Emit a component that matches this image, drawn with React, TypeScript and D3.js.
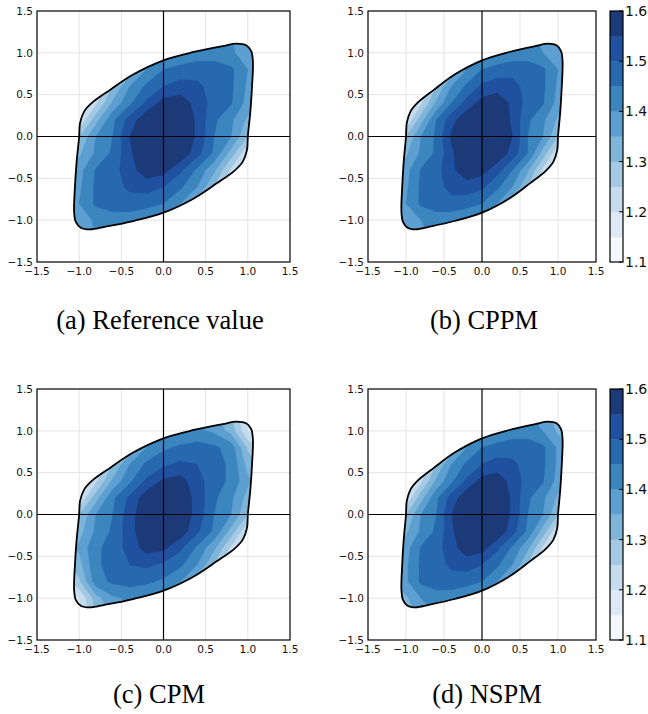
import React from 'react';
import * as d3 from 'd3';

// ---------- data ----------
const GRID_X = [-1.2, -1.0, -0.8, -0.6, -0.4, -0.2, 0, 0.2, 0.4, 0.6, 0.8, 1.0, 1.2];
const GRID_Y = [1.2, 1.0, 0.8, 0.6, 0.4, 0.2, 0, -0.2, -0.4, -0.6, -0.8, -1.0, -1.2];
const LEVELS = [1.1, 1.15, 1.2, 1.25, 1.3, 1.35, 1.4, 1.45, 1.5, 1.55, 1.6];
const BAND_COLORS = ['#f4f7fb', '#dde9f5', '#c6dbee', '#a5c9e3', '#80b5da', '#5c9fd0', '#3c86c0', '#2769ae', '#2051a0', '#1d3a78'];
const AXIS_TICKS = [-1.5, -1.0, -0.5, 0, 0.5, 1.0, 1.5];
const CBAR_TICKS = [1.1, 1.2, 1.3, 1.4, 1.5, 1.6];

const LOOP_X = [-1.0, -0.99, -0.94, -0.84, -0.63, -0.36, 0, 0.36, 0.7, 0.87, 0.98, 1.04, 1.06, 1.05, 1.03,
  1.0, 0.99, 0.94, 0.84, 0.63, 0.36, 0, -0.36, -0.7, -0.87, -0.98, -1.04, -1.06, -1.05, -1.03];
const LOOP_Y = [0, 0.16, 0.30, 0.41, 0.56, 0.74, 0.91, 1.01, 1.08, 1.11, 1.09, 1.02, 0.9, 0.6, 0.3,
  0, -0.16, -0.30, -0.41, -0.56, -0.74, -0.91, -1.01, -1.08, -1.11, -1.09, -1.02, -0.9, -0.6, -0.3];

// rows: y = 1.2 (top) ... -1.2 (bottom); columns: x = -1.2 ... 1.2
const FIELD_A = [
  [1.22, 1.24, 1.27, 1.30, 1.33, 1.36, 1.38, 1.40, 1.41, 1.41, 1.40, 1.36, 1.33],
  [1.22, 1.24, 1.27, 1.30, 1.33, 1.33, 1.38, 1.40, 1.42, 1.42, 1.41, 1.37, 1.34],
  [1.15, 1.18, 1.22, 1.28, 1.31, 1.40, 1.45, 1.47, 1.48, 1.48, 1.46, 1.40, 1.36],
  [1.10, 1.12, 1.20, 1.30, 1.40, 1.46, 1.50, 1.52, 1.51, 1.48, 1.46, 1.39, 1.35],
  [1.08, 1.10, 1.24, 1.36, 1.44, 1.51, 1.57, 1.58, 1.53, 1.48, 1.455, 1.38, 1.34],
  [1.15, 1.20, 1.33, 1.44, 1.52, 1.59, 1.61, 1.60, 1.54, 1.46, 1.41, 1.34, 1.30],
  [1.25, 1.30, 1.40, 1.45, 1.55, 1.59, 1.61, 1.60, 1.54, 1.45, 1.40, 1.30, 1.25],
  [1.30, 1.34, 1.41, 1.46, 1.54, 1.60, 1.61, 1.59, 1.52, 1.44, 1.33, 1.20, 1.15],
  [1.34, 1.38, 1.455, 1.48, 1.53, 1.58, 1.57, 1.51, 1.44, 1.36, 1.24, 1.10, 1.08],
  [1.35, 1.39, 1.46, 1.48, 1.51, 1.52, 1.50, 1.46, 1.40, 1.30, 1.20, 1.12, 1.10],
  [1.36, 1.40, 1.46, 1.48, 1.48, 1.47, 1.45, 1.40, 1.31, 1.28, 1.22, 1.18, 1.15],
  [1.34, 1.37, 1.41, 1.42, 1.42, 1.40, 1.38, 1.33, 1.33, 1.30, 1.27, 1.24, 1.22],
  [1.33, 1.36, 1.40, 1.41, 1.41, 1.40, 1.38, 1.36, 1.33, 1.30, 1.27, 1.24, 1.22],
];

const FIELD_B = [
  [1.22, 1.24, 1.27, 1.30, 1.33, 1.36, 1.38, 1.40, 1.41, 1.41, 1.39, 1.35, 1.32],
  [1.22, 1.24, 1.27, 1.30, 1.33, 1.33, 1.38, 1.40, 1.42, 1.42, 1.40, 1.36, 1.33],
  [1.15, 1.18, 1.22, 1.28, 1.31, 1.40, 1.45, 1.47, 1.48, 1.48, 1.46, 1.40, 1.36],
  [1.10, 1.12, 1.20, 1.30, 1.40, 1.46, 1.51, 1.53, 1.52, 1.48, 1.46, 1.39, 1.35],
  [1.08, 1.10, 1.24, 1.36, 1.45, 1.52, 1.57, 1.58, 1.54, 1.48, 1.455, 1.38, 1.34],
  [1.15, 1.20, 1.33, 1.45, 1.53, 1.59, 1.61, 1.60, 1.54, 1.46, 1.41, 1.34, 1.30],
  [1.25, 1.30, 1.40, 1.46, 1.56, 1.60, 1.61, 1.60, 1.55, 1.45, 1.40, 1.30, 1.25],
  [1.30, 1.34, 1.41, 1.46, 1.54, 1.60, 1.61, 1.59, 1.53, 1.45, 1.33, 1.20, 1.15],
  [1.34, 1.38, 1.455, 1.48, 1.54, 1.58, 1.57, 1.52, 1.45, 1.36, 1.24, 1.10, 1.08],
  [1.35, 1.39, 1.46, 1.48, 1.52, 1.53, 1.51, 1.46, 1.40, 1.30, 1.20, 1.12, 1.10],
  [1.36, 1.40, 1.46, 1.48, 1.48, 1.47, 1.45, 1.40, 1.31, 1.28, 1.22, 1.18, 1.15],
  [1.33, 1.36, 1.40, 1.42, 1.42, 1.40, 1.38, 1.33, 1.33, 1.30, 1.27, 1.24, 1.22],
  [1.32, 1.35, 1.39, 1.41, 1.41, 1.40, 1.38, 1.36, 1.33, 1.30, 1.27, 1.24, 1.22],
];

const FIELD_C = [
  [1.22, 1.24, 1.27, 1.30, 1.33, 1.36, 1.38, 1.39, 1.39, 1.36, 1.30, 1.18, 1.12],
  [1.22, 1.24, 1.27, 1.30, 1.33, 1.33, 1.38, 1.40, 1.41, 1.39, 1.33, 1.20, 1.14],
  [1.15, 1.18, 1.22, 1.28, 1.31, 1.40, 1.44, 1.46, 1.47, 1.46, 1.43, 1.29, 1.22],
  [1.10, 1.12, 1.20, 1.30, 1.40, 1.46, 1.49, 1.51, 1.50, 1.47, 1.44, 1.33, 1.28],
  [1.08, 1.10, 1.24, 1.36, 1.44, 1.51, 1.56, 1.57, 1.52, 1.47, 1.44, 1.36, 1.32],
  [1.15, 1.20, 1.33, 1.44, 1.51, 1.58, 1.60, 1.59, 1.53, 1.46, 1.41, 1.33, 1.29],
  [1.25, 1.30, 1.40, 1.45, 1.53, 1.59, 1.61, 1.59, 1.53, 1.45, 1.40, 1.30, 1.25],
  [1.29, 1.33, 1.41, 1.46, 1.53, 1.59, 1.60, 1.58, 1.51, 1.44, 1.33, 1.20, 1.15],
  [1.32, 1.36, 1.44, 1.47, 1.52, 1.57, 1.56, 1.51, 1.44, 1.36, 1.24, 1.10, 1.08],
  [1.28, 1.33, 1.44, 1.47, 1.50, 1.51, 1.49, 1.46, 1.40, 1.30, 1.20, 1.12, 1.10],
  [1.22, 1.29, 1.43, 1.46, 1.47, 1.46, 1.44, 1.40, 1.31, 1.28, 1.22, 1.18, 1.15],
  [1.14, 1.20, 1.33, 1.39, 1.41, 1.40, 1.38, 1.33, 1.33, 1.30, 1.27, 1.24, 1.22],
  [1.12, 1.18, 1.30, 1.36, 1.39, 1.39, 1.38, 1.36, 1.33, 1.30, 1.27, 1.24, 1.22],
];

const FIELD_D = [
  [1.22, 1.24, 1.27, 1.30, 1.33, 1.36, 1.38, 1.40, 1.41, 1.40, 1.37, 1.32, 1.28],
  [1.22, 1.24, 1.27, 1.30, 1.33, 1.33, 1.38, 1.40, 1.42, 1.42, 1.40, 1.34, 1.30],
  [1.15, 1.18, 1.22, 1.28, 1.31, 1.40, 1.45, 1.47, 1.48, 1.48, 1.46, 1.39, 1.35],
  [1.10, 1.12, 1.20, 1.30, 1.40, 1.46, 1.50, 1.52, 1.51, 1.48, 1.46, 1.39, 1.35],
  [1.08, 1.10, 1.24, 1.36, 1.44, 1.51, 1.57, 1.58, 1.53, 1.48, 1.455, 1.38, 1.34],
  [1.15, 1.20, 1.33, 1.44, 1.52, 1.59, 1.61, 1.60, 1.54, 1.46, 1.41, 1.34, 1.30],
  [1.25, 1.30, 1.40, 1.45, 1.55, 1.59, 1.61, 1.60, 1.54, 1.45, 1.40, 1.30, 1.25],
  [1.30, 1.34, 1.41, 1.46, 1.54, 1.60, 1.61, 1.59, 1.52, 1.44, 1.33, 1.20, 1.15],
  [1.34, 1.38, 1.455, 1.48, 1.53, 1.58, 1.57, 1.51, 1.44, 1.36, 1.24, 1.10, 1.08],
  [1.35, 1.39, 1.46, 1.48, 1.51, 1.52, 1.50, 1.46, 1.40, 1.30, 1.20, 1.12, 1.10],
  [1.35, 1.39, 1.46, 1.48, 1.48, 1.47, 1.45, 1.40, 1.31, 1.28, 1.22, 1.18, 1.15],
  [1.30, 1.34, 1.40, 1.42, 1.42, 1.40, 1.38, 1.33, 1.33, 1.30, 1.27, 1.24, 1.22],
  [1.28, 1.32, 1.37, 1.40, 1.41, 1.40, 1.38, 1.36, 1.33, 1.30, 1.27, 1.24, 1.22],
];

const CAPTIONS = ['(a) Reference value', '(b) CPPM', '(c) CPM', '(d) NSPM'];

// ---------- layout ----------
const W = 648, H = 714;
const PANELS = [
  { id: 'a', field: FIELD_A, x0: 37, x1: 290, y0: 11, y1: 262, capX: 160, capY: 329, cbar: false },
  { id: 'b', field: FIELD_B, x0: 368, x1: 596, y0: 11, y1: 262, capX: 484, capY: 329, cbar: true },
  { id: 'c', field: FIELD_C, x0: 37, x1: 290, y0: 389, y1: 640, capX: 159, capY: 703, cbar: false },
  { id: 'd', field: FIELD_D, x0: 368, x1: 596, y0: 389, y1: 640, capX: 487, capY: 703, cbar: true },
];
const TICK_FONT = "'DejaVu Sans', sans-serif";
const CAP_FONT = "'Liberation Serif', 'Times New Roman', Times, 'DejaVu Serif', serif";
const fmt = d3.format('.1f');

function Panel({ p, idx }: { p: any; idx: number }) {
  const xs = d3.scaleLinear().domain([-1.5, 1.5]).range([p.x0, p.x1]);
  const ys = d3.scaleLinear().domain([-1.5, 1.5]).range([p.y1, p.y0]);
  const nx = GRID_X.length, ny = GRID_Y.length;
  // d3-contour places sample k at coordinate k + 0.5
  const gx = d3.scaleLinear().domain([0.5, nx - 0.5]).range([GRID_X[0], GRID_X[nx - 1]]);
  const gy = d3.scaleLinear().domain([0.5, ny - 0.5]).range([GRID_Y[0], GRID_Y[ny - 1]]);
  const values = (p.field as number[][]).flat();
  const contours = d3.contours().size([nx, ny]).thresholds(LEVELS.slice(0, -1))(values);
  const proj = d3.geoTransform({
    point(px: number, py: number) {
      (this as any).stream.point(xs(gx(px)), ys(gy(py)));
    },
  });
  const geo = d3.geoPath(proj);
  const loopPts = LOOP_X.map((x, i) => [x, LOOP_Y[i]] as [number, number]);
  const loop = d3.line<[number, number]>().x(d => xs(d[0])).y(d => ys(d[1])).curve(d3.curveCatmullRomClosed.alpha(0.5))(loopPts) || '';
  const clipId = `clip-${p.id}`;
  const gridTicks = AXIS_TICKS.filter(t => Math.abs(t) < 1.4 && t !== 0);

  let cbar = null;
  if (p.cbar) {
    const cx0 = 610, cx1 = 623;
    const cs = d3.scaleLinear().domain([LEVELS[0], LEVELS[LEVELS.length - 1]]).range([p.y1, p.y0]);
    cbar = (
      <g>
        {BAND_COLORS.map((c, i) => (
          <rect key={i} x={cx0} y={cs(LEVELS[i + 1])} width={cx1 - cx0} height={cs(LEVELS[i]) - cs(LEVELS[i + 1]) + 0.3} fill={c} />
        ))}
        {CBAR_TICKS.map(t => (
          <g key={t}>
            <line x1={cx1 - 4} x2={cx1} y1={cs(t)} y2={cs(t)} stroke="#000" strokeWidth={1} />
            <text x={cx1 + 2} y={cs(t)} dy="0.36em" style={{ fontFamily: TICK_FONT }} fontSize={14} fill="#111">{fmt(t)}</text>
          </g>
        ))}
        <rect x={cx0} y={p.y0} width={cx1 - cx0} height={p.y1 - p.y0} fill="none" stroke="#000" strokeWidth={1.2} />
      </g>
    );
  }

  return (
    <g>
      <defs>
        <clipPath id={clipId}><path d={loop} /></clipPath>
      </defs>
      {gridTicks.map(t => (
        <g key={'g' + t}>
          <line x1={xs(t)} x2={xs(t)} y1={p.y0} y2={p.y1} stroke="#e3e3e3" strokeWidth={1} />
          <line x1={p.x0} x2={p.x1} y1={ys(t)} y2={ys(t)} stroke="#e3e3e3" strokeWidth={1} />
        </g>
      ))}
      <g clipPath={`url(#${clipId})`}>
        {contours.map((c, i) => (
          <path key={i} d={geo(c as any) || ''} fill={BAND_COLORS[i]} stroke={BAND_COLORS[i]} strokeWidth={0.4} />
        ))}
      </g>
      <line x1={xs(0)} x2={xs(0)} y1={p.y0} y2={p.y1} stroke="#000" strokeWidth={1.2} />
      <line x1={p.x0} x2={p.x1} y1={ys(0)} y2={ys(0)} stroke="#000" strokeWidth={1.2} />
      <path d={loop} fill="none" stroke="#000" strokeWidth={1.8} />
      <rect x={p.x0} y={p.y0} width={p.x1 - p.x0} height={p.y1 - p.y0} fill="none" stroke="#000" strokeWidth={1.2} />
      {AXIS_TICKS.map(t => (
        <text key={'y' + t} x={p.x0 - 4} y={ys(t)} dy="0.36em" textAnchor="end" style={{ fontFamily: TICK_FONT }} fontSize={10.5} fill="#111">{fmt(t)}</text>
      ))}
      {AXIS_TICKS.map(t => (
        <text key={'x' + t} x={xs(t)} y={p.y1 + 13} textAnchor="middle" style={{ fontFamily: TICK_FONT }} fontSize={10.5} fill="#111">{fmt(t)}</text>
      ))}
      {cbar}
      <text x={p.capX} y={p.capY} textAnchor="middle" style={{ fontFamily: CAP_FONT }} fontSize={26.5} fill="#000">{CAPTIONS[idx]}</text>
    </g>
  );
}

export default function App() {
  return (
    <svg width={W} height={H} viewBox={`0 0 ${W} ${H}`} style={{ position: 'absolute', left: 0, top: 0, background: '#fff' }}>
      <rect x={0} y={0} width={W} height={H} fill="#fff" />
      {PANELS.map((p, i) => <Panel key={p.id} p={p} idx={i} />)}
    </svg>
  );
}
